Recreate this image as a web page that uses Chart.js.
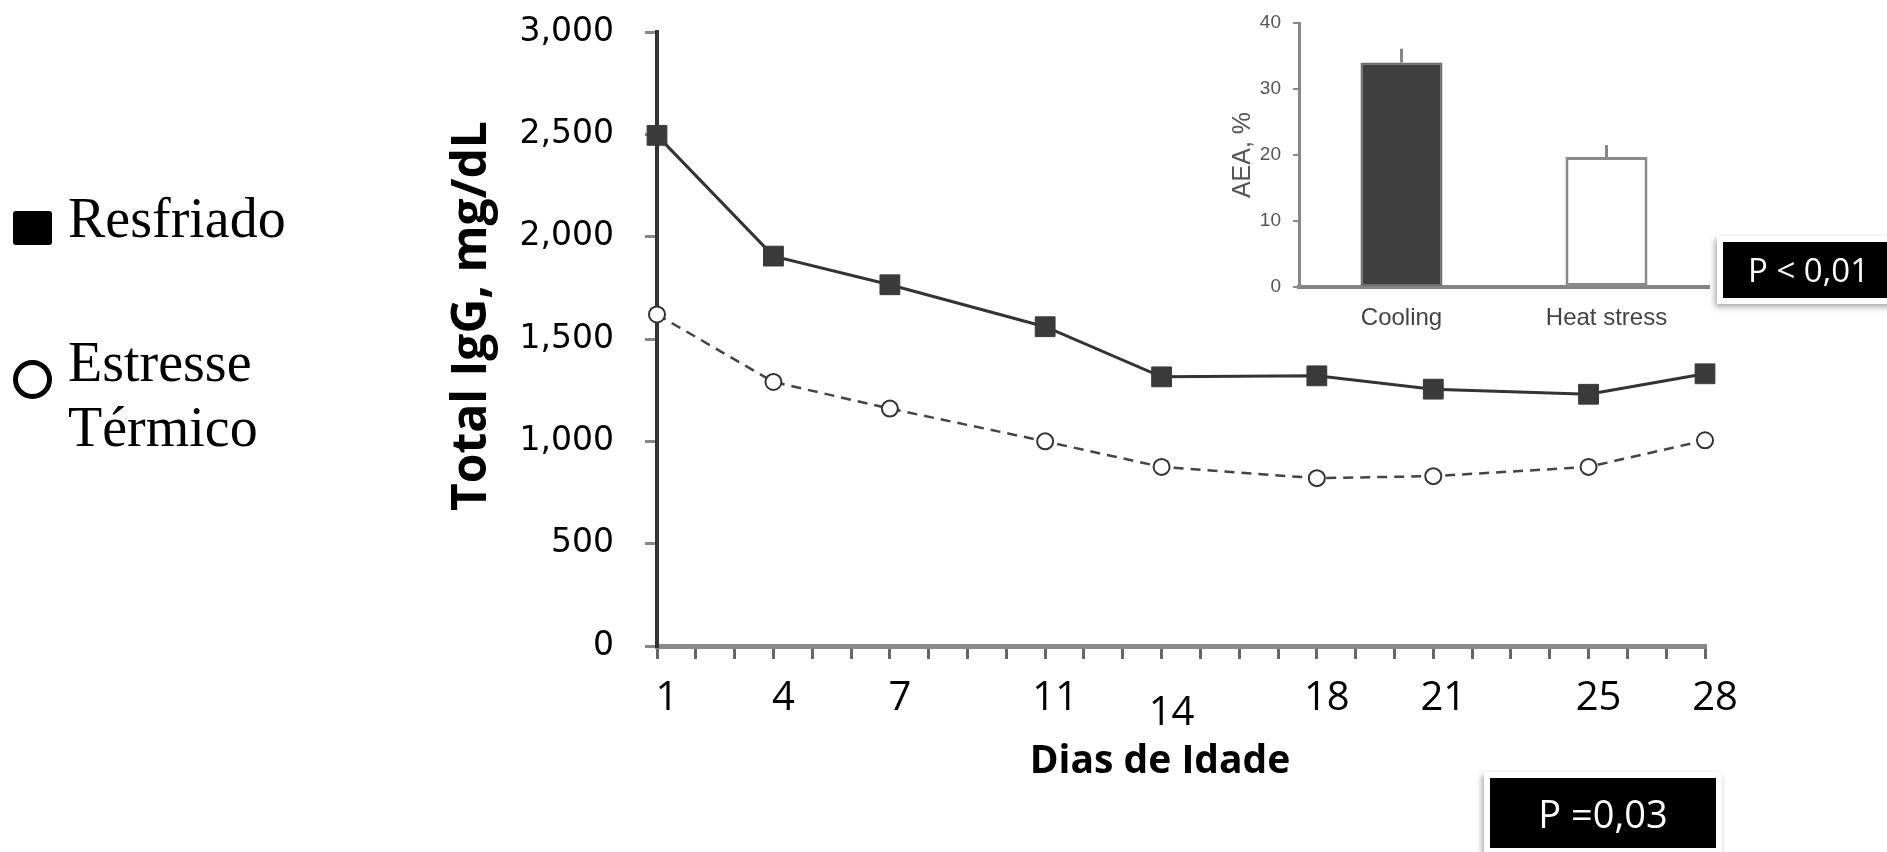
<!DOCTYPE html>
<html>
<head>
<meta charset="utf-8">
<script src="https://cdn.jsdelivr.net/npm/chart.js@4.4.0/dist/chart.umd.min.js"></script>
<style>
  html, body { margin: 0; padding: 0; background: #fff; }
  #page { position: relative; width: 1887px; height: 852px; overflow: hidden; }
  #mainWrap { position: absolute; left: 0; top: 0; width: 1887px; height: 852px; }
  #insetWrap { position: absolute; left: 1180px; top: 0; width: 540px; height: 350px; }
  .legend-item { position: absolute; left: 13px; width: 300px; height: 140px; }
  .legend-item .txt { position: absolute; left: 55px; top: 0; width: 240px;
    font-family: 'Liberation Serif', serif; font-size: 56px; line-height: 65px; color: #000; }
  .mk-square { position: absolute; left: 0; top: 25px; width: 39px; height: 34px; background: #000; border-radius: 3px; }
  .mk-circle { position: absolute; left: 0; top: 30px; width: 29px; height: 29px; border: 5px solid #000; border-radius: 50%; }
  .pbox { position: absolute; background: #000; color: #fff; font-family: 'Open Sans', sans-serif;
    border: 6px solid #fff; box-shadow: -2px 3px 6px rgba(0,0,0,0.35); white-space: nowrap; }
</style>
</head>
<body>
<div id="page">
  <div id="mainWrap"><canvas id="mainChart"></canvas></div>
  <div id="insetWrap"><canvas id="insetChart"></canvas></div>
  <div id="legend"></div>
  <div class="pbox" style="left:1717px; top:236px; width:200px; height:56px; font-size:33px; line-height:56px; padding-left:25px;">P &lt; 0,01</div>
  <div class="pbox" style="left:1484px; top:772px; width:226px; height:70px; font-size:38px; line-height:70px; text-align:center;">P =0,03</div>
</div>
<script>
// dados principais
const days = [1, 4, 7, 11, 14, 18, 21, 25, 28];
const resfriado = [2495, 1905, 1765, 1560, 1315, 1320, 1255, 1230, 1330];
const estresse = [1620, 1290, 1160, 1000, 875, 820, 830, 875, 1005];
const seriesNames = ['Resfriado', 'Estresse Térmico'];
const yTicks = [0, 500, 1000, 1500, 2000, 2500, 3000];
const dayTickLabels = [1, 4, 7, 11, 14, 18, 21, 25, 28];
const xTitle = 'Dias de Idade';
const yTitle = 'Total IgG, mg/dL';

// gráfico inserido (AEA)
const insetCategories = ['Cooling', 'Heat stress'];
const insetValues = [34, 19.7];
const insetErrors = [2.1, 1.8];
const insetTicks = [0, 10, 20, 30, 40];

// legenda à esquerda
const legendEl = document.getElementById('legend');
const legendTops = [186, 330];
const markerClasses = ['mk-square', 'mk-circle'];
seriesNames.forEach(function (name, i) {
    const item = document.createElement('div');
    item.className = 'legend-item';
    item.style.top = legendTops[i] + 'px';
    item.innerHTML = '<div class="' + markerClasses[i] + '"></div><div class="txt">' + name + '</div>';
    legendEl.appendChild(item);
});

// títulos dos eixos (um pouco fora do centro, como no original)
const axisTitlePlugin = {
    id: 'axisTitles',
    afterDraw(chart) {
        const ctx = chart.ctx;
        const area = chart.chartArea;
        ctx.save();
        ctx.fillStyle = '#000';
        ctx.textAlign = 'center';
        ctx.textBaseline = 'middle';
        ctx.font = 'bold 39px "Open Sans"';
        ctx.fillText(xTitle, (area.left + area.right) / 2 - 21, area.bottom + 116);
        ctx.translate(area.left - 185, (area.top + area.bottom) / 2 - 23);
        ctx.rotate(-Math.PI / 2);
        ctx.font = 'bold 48px "Open Sans"';
        ctx.fillText(yTitle, 0, 0);
        ctx.restore();
    }
};

new Chart(document.getElementById('mainChart'), {
    type: 'line',
    data: {
        datasets: [{
            label: seriesNames[0],
            data: days.map((d, i) => ({ x: d, y: resfriado[i] })),
            borderColor: '#333',
            borderWidth: 3,
            pointStyle: 'rect',
            pointRadius: 14,
            pointBackgroundColor: '#3a3a3a',
            pointBorderColor: '#3a3a3a',
            pointBorderWidth: 1,
            clip: false
        }, {
            label: seriesNames[1],
            data: days.map((d, i) => ({ x: d, y: estresse[i] })),
            borderColor: '#444',
            borderWidth: 2.5,
            borderDash: [10, 7],
            pointStyle: 'circle',
            pointRadius: 8,
            pointBackgroundColor: '#fff',
            pointBorderColor: '#333',
            pointBorderWidth: 2,
            clip: false
        }]
    },
    options: {
        responsive: true,
        maintainAspectRatio: false,
        animation: false,
        layout: { autoPadding: false, padding: { left: 420, right: 182, top: 32, bottom: 66 } },
        plugins: { legend: { display: false }, tooltip: { enabled: false } },
        scales: {
            x: {
                type: 'linear',
                min: 1,
                max: 28,
                afterFit: function (s) { s.height = 140; s.paddingLeft = 0; s.paddingRight = 0; },
                border: { color: '#8a8a8a', width: 5 },
                grid: { drawOnChartArea: false, tickLength: 13, color: '#666', lineWidth: 3 },
                ticks: {
                    stepSize: 1,
                    autoSkip: false,
                    maxRotation: 0,
                    padding: 16,
                    labelOffset: 10,
                    color: '#000',
                    font: function (ctx) {
                        const low = ctx.tick && ctx.tick.value === 14;
                        return { family: 'Open Sans', size: 40, lineHeight: low ? '26px' : 1.2 };
                    },
                    callback: function (v) {
                        if (!dayTickLabels.includes(v)) return '';
                        return v === 14 ? ['', '14'] : String(v);
                    }
                }
            },
            y: {
                min: 0,
                max: 3000,
                afterFit: function (s) { s.width = 237; s.paddingTop = 0; s.paddingBottom = 0; },
                afterBuildTicks: function (s) { s.ticks = yTicks.map(v => ({ value: v })); },
                border: { color: '#333', width: 4 },
                grid: { drawOnChartArea: false, tickLength: 12, color: '#888', lineWidth: 3 },
                ticks: {
                    padding: 31,
                    color: '#000',
                    font: { family: 'DejaVu Sans', size: 33 },
                    callback: function (v) { return v.toLocaleString('en-US'); }
                }
            }
        }
    },
    plugins: [axisTitlePlugin]
});

// hastes de erro do gráfico inserido
const errorBarPlugin = {
    id: 'errorBars',
    afterDatasetsDraw(chart) {
        const ctx = chart.ctx;
        const meta = chart.getDatasetMeta(0);
        const y = chart.scales.y;
        ctx.save();
        ctx.strokeStyle = '#858585';
        ctx.lineWidth = 3;
        meta.data.forEach(function (bar, i) {
            ctx.beginPath();
            ctx.moveTo(bar.x, y.getPixelForValue(insetValues[i]));
            ctx.lineTo(bar.x, y.getPixelForValue(insetValues[i] + insetErrors[i]));
            ctx.stroke();
        });
        ctx.restore();
    }
};

new Chart(document.getElementById('insetChart'), {
    type: 'bar',
    data: {
        labels: insetCategories,
        datasets: [{
            data: insetValues,
            backgroundColor: ['#404040', '#ffffff'],
            borderColor: ['#6e6e6e', '#8a8a8a'],
            borderWidth: [2, 3],
            borderSkipped: false,
            barPercentage: 0.4,
            categoryPercentage: 1
        }]
    },
    options: {
        responsive: true,
        maintainAspectRatio: false,
        animation: false,
        layout: { autoPadding: false, padding: { left: 39, right: 11, top: 23, bottom: 3 } },
        plugins: { legend: { display: false }, tooltip: { enabled: false } },
        scales: {
            x: {
                afterFit: function (s) { s.height = 60; s.paddingLeft = 0; s.paddingRight = 0; },
                border: { color: '#858585', width: 4 },
                grid: { display: false, drawTicks: false },
                ticks: { padding: 17, color: '#444', font: { family: 'Liberation Sans', size: 24 } }
            },
            y: {
                min: 0,
                max: 40,
                afterFit: function (s) { s.width = 80; s.paddingTop = 0; s.paddingBottom = 0; },
                afterBuildTicks: function (s) { s.ticks = insetTicks.map(v => ({ value: v })); },
                border: { color: '#888', width: 3 },
                grid: { drawOnChartArea: false, tickLength: 6, color: '#888', lineWidth: 2 },
                ticks: { padding: 12, color: '#555', font: { family: 'Liberation Sans', size: 19 } },
                title: {
                    display: true,
                    text: 'AEA, %',
                    color: '#555',
                    font: { family: 'Liberation Sans', size: 25 },
                    padding: { top: 9, bottom: 0 }
                }
            }
        }
    },
    plugins: [errorBarPlugin]
});
</script>
</body>
</html>
